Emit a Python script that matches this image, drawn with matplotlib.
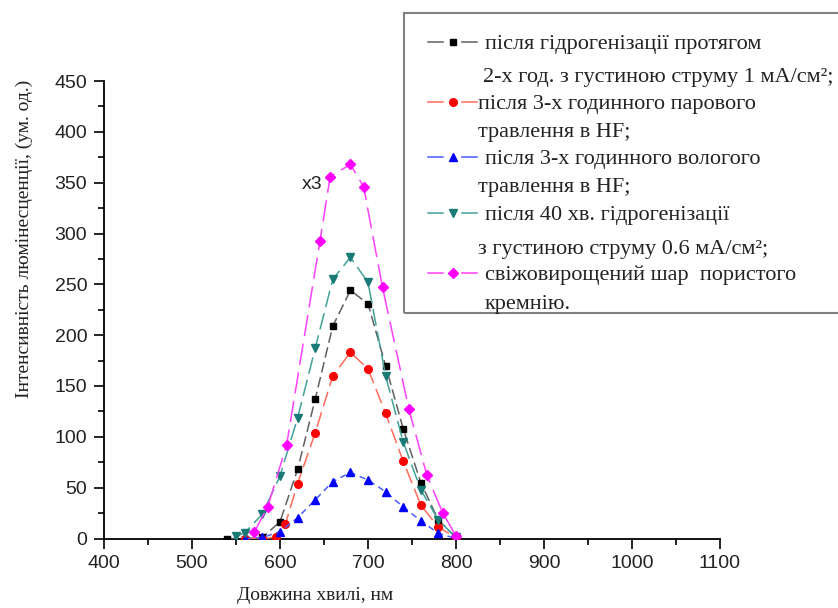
import numpy as np
import matplotlib.pyplot as plt
from matplotlib.lines import Line2D
from matplotlib.patches import Rectangle
from matplotlib.ticker import MultipleLocator

# wavelength (nm) and intensity for each sample
x_black = [540, 560, 580, 600, 620, 640, 660, 680, 700, 720, 740, 760, 780, 800]
y_black = [0, 0, 1, 16.5, 68, 137, 209, 244, 231, 170, 108, 55, 18, 1]

x_red = [560, 580, 595, 606, 620, 640, 660, 680, 700, 720, 740, 760, 780, 800]
y_red = [0, 0, 1, 14, 54, 104, 160, 183, 167, 123, 76, 33, 11, 1]

x_blue = [560, 580, 600, 620, 640, 660, 680, 700, 720, 740, 760, 780, 800]
y_blue = [0, 1, 6.7, 20.5, 38, 56, 65, 57.5, 46, 31, 17.5, 5, 0]

x_teal = [550, 560, 580, 600, 620, 640, 660, 680, 700, 720, 740, 760, 780, 800]
y_teal = [2, 5.7, 24, 61.5, 118.5, 187, 255, 276.5, 252, 160, 95, 48, 18, 1]

x_mag = [571, 586, 607.5, 645.5, 657, 680, 695, 716.5, 746.5, 767, 785, 800]
y_mag = [6.7, 31, 92, 293, 356, 368, 346, 247, 127, 62, 25, 2.5]

labels = [
    ("після гідрогенізації протягом", "2-х год. з густиною струму 1 мА/см²;"),
    ("після 3-х годинного парового", "травлення в HF;"),
    ("після 3-х годинного вологого", "травлення в HF;"),
    ("після 40 хв. гідрогенізації", "з густиною струму 0.6 мА/см²;"),
    ("свіжовирощений шар  пористого", "кремнію."),
]

series = [
    (x_black, y_black, '#606060', 'black', 's', 4.8, (7, 3)),
    (x_red, y_red, '#ff6a5a', '#ff0000', 'o', 5.5, (10, 4)),
    (x_blue, y_blue, '#4a5cff', '#0000ff', '^', 5.5, (4, 3)),
    (x_teal, y_teal, '#40a29a', '#1a7a76', 'v', 5.5, (11, 4)),
    (x_mag, y_mag, '#ff40ff', '#ff00ff', 'D', 5, (14, 5)),
]

W, H = 838, 608
fig = plt.figure(figsize=(W / 100, H / 100), dpi=100)
ax = fig.add_axes([104 / W, 1 - 538.5 / H, (720 - 104) / W, (538.5 - 81) / H])

for xs, ys, lc, mc, m, ms, dash in series:
    ax.plot(xs, ys, color=lc, lw=1.1, dashes=dash, marker=m, ms=ms,
            mfc=mc, mec=mc, zorder=3)

ax.set_xlim(400, 1100)
ax.set_ylim(0, 450)
ax.spines['top'].set_visible(False)
ax.spines['right'].set_visible(False)
for s in ['left', 'bottom']:
    ax.spines[s].set_linewidth(1.3)
ax.xaxis.set_major_locator(MultipleLocator(100))
ax.xaxis.set_minor_locator(MultipleLocator(50))
ax.yaxis.set_major_locator(MultipleLocator(50))
ax.yaxis.set_minor_locator(MultipleLocator(25))
ax.tick_params(which='major', direction='out', length=7, width=1.2, pad=5)
ax.tick_params(which='minor', direction='out', length=4, width=1.2)
for lab in ax.get_xticklabels() + ax.get_yticklabels():
    lab.set_family('Liberation Sans')
    lab.set_fontsize(14)
    lab.set_color('#222222')

ax.set_xlabel('Довжина хвилі, нм', family='Liberation Serif', fontsize=14, color='#222222')
ax.set_ylabel('Інтенсивність люмінесценції, (ум. од.)', family='Liberation Serif',
              fontsize=14, color='#222222')
ax.xaxis.set_label_coords(0.343, -0.107)
ax.yaxis.set_label_coords(-0.115, 0.655)

ax.text(648, 348, 'x3', ha='right', va='center', family='Liberation Sans',
        fontsize=14, color='#222222')

# legend box drawn by hand, pixel positions from the original
def fx(px):
    return px / W

def fy(py):
    return 1 - py / H

fig.patches.append(Rectangle((fx(404), fy(313)), fx(450), (313 - 13) / H,
                             transform=fig.transFigure, fill=False,
                             edgecolor='#808080', lw=1.5))

rows = [(42, 485, 75, 483), (102, 478, 130, 478), (157, 485, 185, 478),
        (213, 485, 247, 478), (273, 485, 302, 485)]
for (xs, ys, lc, mc, m, ms, dash), (t1, t2), (hy, x1, y2, x2) in zip(series, labels, rows):
    for a, b in [(428, 443), (462, 477)]:
        fig.lines.append(Line2D([fx(a), fx(b)], [fy(hy), fy(hy)], color=lc, lw=1.1,
                                transform=fig.transFigure))
    fig.lines.append(Line2D([fx(453)], [fy(hy)], marker=m, ms=ms, mfc=mc, mec=mc,
                            transform=fig.transFigure))
    fig.text(fx(x1), fy(hy + 7), t1, family='Liberation Serif', fontsize=16,
             color='#222222', va='baseline')
    fig.text(fx(x2), fy(y2 + 7), t2, family='Liberation Serif', fontsize=16,
             color='#222222', va='baseline')

plt.savefig('out.png', dpi=100)
